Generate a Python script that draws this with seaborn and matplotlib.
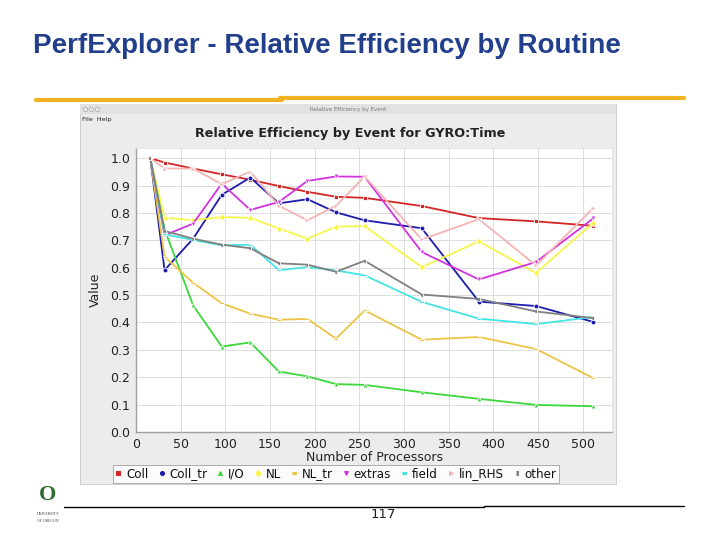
import matplotlib
matplotlib.use("Agg")
import matplotlib.pyplot as plt
from matplotlib.patches import Rectangle
from matplotlib.lines import Line2D
import seaborn as sns
import pandas as pd

processors = [16, 32, 64, 96, 128, 160, 192, 224, 256, 320, 384, 448, 512]

coll    = [1.0, 0.984, 0.962, 0.941, 0.921, 0.898, 0.877, 0.859, 0.855, 0.825, 0.781, 0.769, 0.753]
coll_tr = [1.0, 0.591, 0.706, 0.866, 0.929, 0.835, 0.850, 0.802, 0.773, 0.744, 0.476, 0.460, 0.402]
io      = [1.0, 0.740, 0.462, 0.312, 0.327, 0.221, 0.203, 0.175, 0.172, 0.145, 0.121, 0.099, 0.094]
nl      = [1.0, 0.783, 0.773, 0.785, 0.782, 0.743, 0.706, 0.750, 0.752, 0.602, 0.696, 0.581, 0.764]
nl_tr   = [1.0, 0.640, 0.545, 0.470, 0.432, 0.410, 0.413, 0.341, 0.444, 0.337, 0.347, 0.303, 0.197]
extras  = [1.0, 0.718, 0.761, 0.907, 0.811, 0.840, 0.917, 0.933, 0.932, 0.657, 0.557, 0.621, 0.780]
field   = [1.0, 0.722, 0.701, 0.682, 0.684, 0.591, 0.602, 0.590, 0.572, 0.475, 0.414, 0.394, 0.420]
lin_rhs = [1.0, 0.962, 0.962, 0.905, 0.951, 0.826, 0.773, 0.826, 0.933, 0.703, 0.777, 0.608, 0.818]
other   = [1.0, 0.734, 0.706, 0.684, 0.671, 0.616, 0.611, 0.585, 0.625, 0.502, 0.486, 0.440, 0.416]

series_names = ["Coll", "Coll_tr", "I/O", "NL", "NL_tr", "extras", "field", "lin_RHS", "other"]
series_vals = [coll, coll_tr, io, nl, nl_tr, extras, field, lin_rhs, other]

colors = ["#d42424", "#1c1cae", "#3ad83a", "#f6f64a", "#ecc444",
          "#d232e0", "#44e4e4", "#f2b4b4", "#808080"]
hrect = [(-1, -0.4), (1, -0.4), (1, 0.4), (-1, 0.4)]
vrect = [(-0.4, -1), (0.4, -1), (0.4, 1), (-0.4, 1)]
markers = ["s", "o", "^", "D", hrect, "v", hrect, ">", vrect]

x_ticks = [0, 50, 100, 150, 200, 250, 300, 350, 400, 450, 500]
y_ticks = [0.0, 0.1, 0.2, 0.3, 0.4, 0.5, 0.6, 0.7, 0.8, 0.9, 1.0]

rows = []
for name, vals in zip(series_names, series_vals):
    for p, v in zip(processors, vals):
        rows.append({"Number of Processors": p, "Value": v, "Event": name})
df = pd.DataFrame(rows)

sns.set_theme(style="white")
plt.rcParams["font.family"] = ["DejaVu Sans"]

W, H = 720, 540
fig = plt.figure(figsize=(7.2, 5.4), dpi=100)
fig.patch.set_facecolor("white")

def fx(px):
    return px / W

def fy(py):
    return 1 - py / H

# slide title
fig.text(fx(33), fy(46), "PerfExplorer - Relative Efficiency by Routine",
         family="Liberation Sans", weight="bold", fontsize=20,
         color="#213f8c", va="center", ha="left")

# gold rule under title
fig.add_artist(Line2D([fx(36), fx(282)], [fy(99.5), fy(99.5)], color="#f0b21e", lw=3.0))
fig.add_artist(Line2D([fx(280), fx(684)], [fy(98.3), fy(98.3)], color="#f0b21e", lw=3.0))

# window background
fig.add_artist(Rectangle((fx(80), fy(484)), fx(536), (484 - 104) / H,
                         facecolor="#ececec", edgecolor="#c8c8c8", lw=0.6,
                         zorder=-10))
fig.add_artist(Rectangle((fx(80), fy(114)), fx(536), 10 / H,
                         facecolor="#e2e2e2", edgecolor="none", zorder=-9))
fig.text(fx(348), fy(110), "Relative Efficiency by Event", fontsize=4,
         color="#777777", ha="center", va="center")
for cx in (85, 91, 97):
    fig.add_artist(Line2D([fx(cx)], [fy(109)], marker="o", markersize=3.2,
                          markerfacecolor="#e8e8e8", markeredgecolor="#aaaaaa",
                          markeredgewidth=0.5, linestyle="none"))
fig.text(fx(82), fy(120), "File  Help", fontsize=4.6, color="#222222",
         ha="left", va="center")
fig.text(fx(350), fy(134), "Relative Efficiency by Event for GYRO:Time",
         fontsize=9.2, weight="bold", color="#222222", ha="center", va="center")

# plot area
ax = fig.add_axes([fx(136), fy(432), (612 - 136) / W, (432 - 148) / H])
ax.set_facecolor("white")

sns.lineplot(data=df, x="Number of Processors", y="Value", hue="Event",
             style="Event", hue_order=series_names, style_order=series_names,
             palette=dict(zip(series_names, colors)),
             markers=dict(zip(series_names, markers)), dashes=False,
             markersize=3.5, markeredgewidth=0.6, linewidth=1.3,
             legend=False, ax=ax)

ax.set_xlim(0, 533)
ax.set_ylim(0, 1.037)
ax.set_xticks(x_ticks)
ax.set_yticks(y_ticks)
ax.set_xticklabels([str(t) for t in x_ticks], fontsize=9, color="#222222")
ax.set_yticklabels([f"{t:.1f}" for t in y_ticks], fontsize=9, color="#222222")
ax.grid(True, color="#dcdcdc", lw=0.7)
ax.set_axisbelow(True)
for s in ["top", "right"]:
    ax.spines[s].set_color("#e0e0e0")
    ax.spines[s].set_linewidth(0.6)
for s in ["left", "bottom"]:
    ax.spines[s].set_color("#a0a0a0")
    ax.spines[s].set_linewidth(1.0)
ax.tick_params(axis="both", length=2, pad=2, color="#a0a0a0")
ax.set_xlabel("Number of Processors", fontsize=9, color="#222222", labelpad=0)
ax.set_ylabel("Value", fontsize=9, color="#222222", labelpad=6)

# legend
handles = [Line2D([], [], color=c, marker=m, linestyle="none", markersize=2.8,
                  markeredgewidth=0.8)
           for c, m in zip(colors, markers)]
leg = fig.legend(handles, series_names, ncol=9, loc="center",
                 bbox_to_anchor=(fx(336), fy(474)), fontsize=8.6,
                 frameon=True, fancybox=False, handlelength=0.5,
                 handletextpad=0.4, columnspacing=0.85, borderpad=0.22)
leg.get_frame().set_edgecolor("#999999")
leg.get_frame().set_linewidth(0.7)
leg.get_frame().set_facecolor("white")
for t in leg.get_texts():
    t.set_color("#111111")

# footer
fig.text(fx(48), fy(495), "O", family="Liberation Serif", weight="bold",
         fontsize=16, color="#2e6e2e", ha="center", va="center")
fig.text(fx(48), fy(514), "UNIVERSITY", family="Liberation Serif", fontsize=2.8,
         color="#444444", ha="center", va="center")
fig.text(fx(48), fy(521), "OF OREGON", family="Liberation Serif", fontsize=2.8,
         color="#444444", ha="center", va="center")
fig.add_artist(Line2D([fx(64), fx(484)], [fy(507), fy(507)], color="black", lw=1.0))
fig.add_artist(Line2D([fx(484), fx(684)], [fy(506), fy(506)], color="black", lw=1.0))
fig.text(fx(383), fy(515), "117", family="Liberation Sans Narrow", fontsize=9.5,
         color="#222222", ha="center", va="center")

fig.savefig("out.png", dpi=100)
